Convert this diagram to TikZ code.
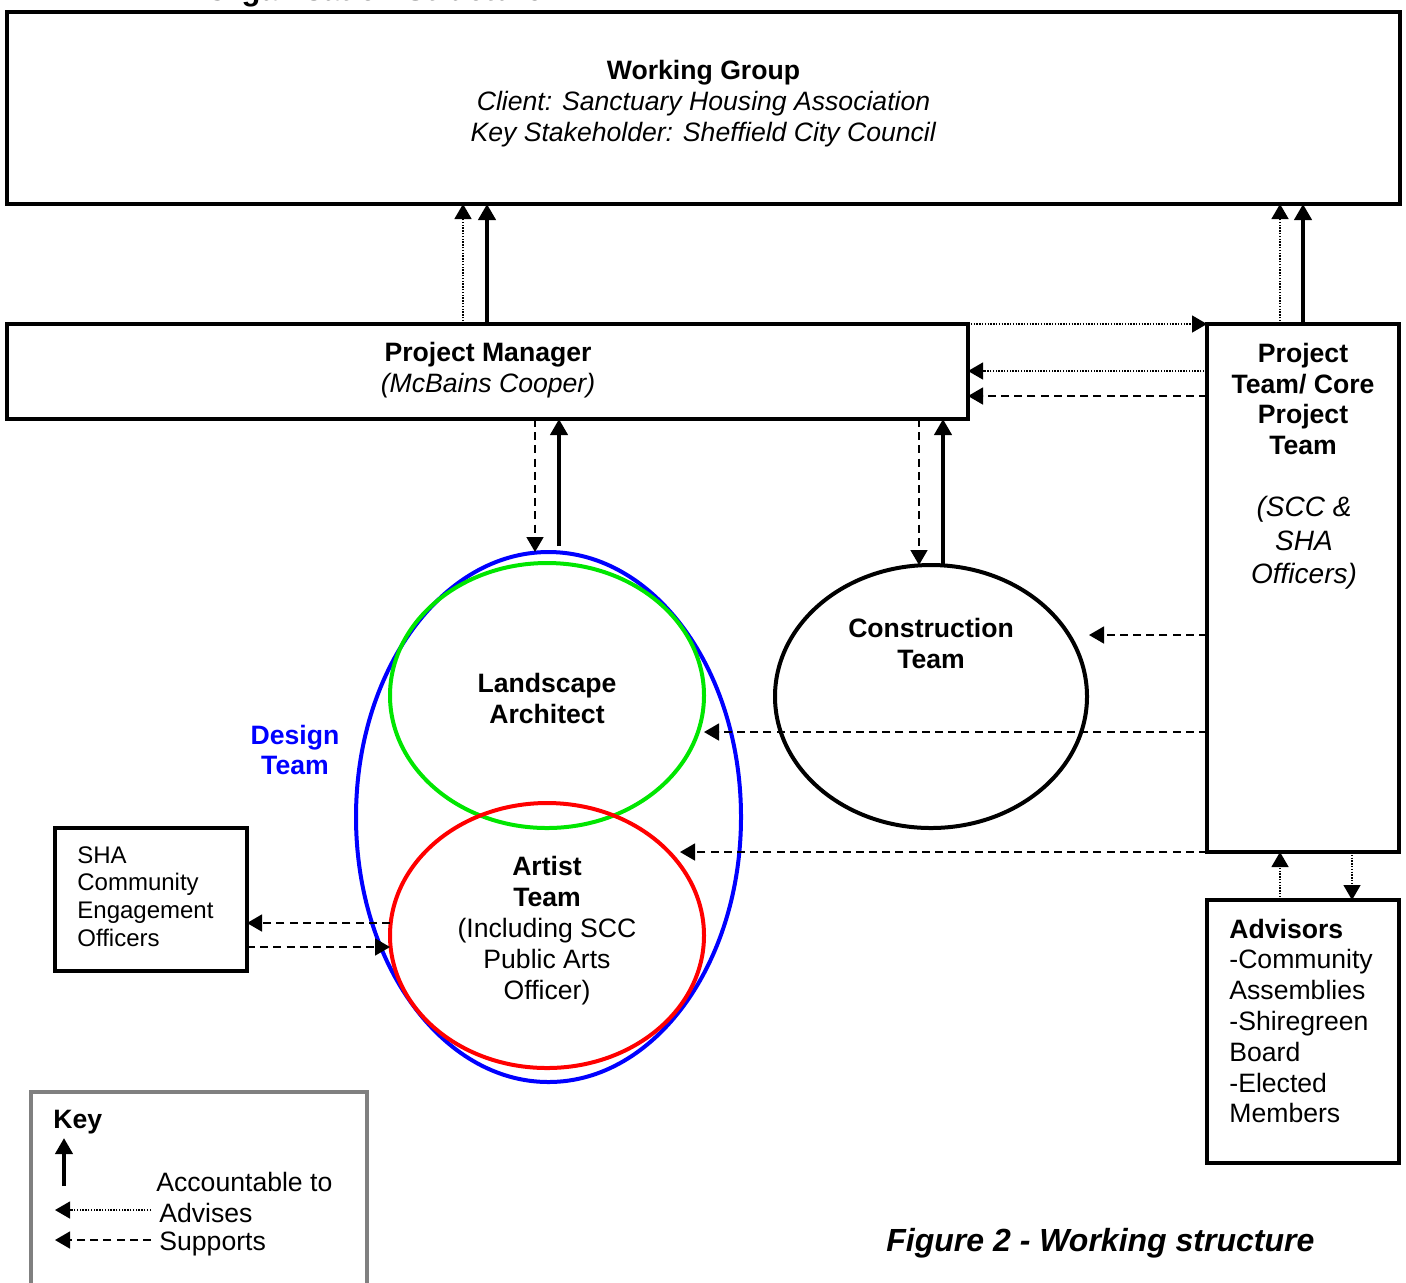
\documentclass[tikz,border=0pt]{standalone}
\usepackage{fontspec}
\setmainfont{Liberation Sans}
\usetikzlibrary{arrows.meta,shapes.geometric}
\definecolor{dblue}{RGB}{0,0,255}
\definecolor{dgreen}{RGB}{0,230,0}
\definecolor{dred}{RGB}{255,0,0}
\definecolor{keygray}{RGB}{128,128,128}
\begin{document}
\begin{tikzpicture}[x=0.5pt,y=-0.5pt,
  box/.style={draw, line width=2.2pt, inner sep=0pt, outer sep=0pt, fill=white},
  ell/.style={ellipse, line width=2pt, inner sep=0pt, outer sep=0pt},
  txt/.style={align=center, inner sep=0pt, font=\fontsize{13.3}{15.4}\selectfont},
  ltxt/.style={align=left, inner sep=0pt, font=\fontsize{13.3}{15.4}\selectfont},
  acc/.style={line width=2pt, -{Triangle[length=8pt,width=8.5pt]}},
  adv/.style={line width=0.7pt, dash pattern=on 0.7pt off 0.7pt, -{Triangle[length=7.5pt,width=8.5pt]}},
  sup/.style={line width=0.8pt, dash pattern=on 4pt off 2.6pt, -{Triangle[length=7.5pt,width=8.5pt]}}]
\useasboundingbox (0,0) rectangle (1406,1282);
\clip (0,0) rectangle (1406,1282);

% title (cut off at the top, as in the reference)
\node[anchor=base west, inner sep=0pt, font=\fontsize{15.5}{18}\selectfont\bfseries] (title) at (205,0.5) {Organisation Structure};

% boxes
\node[box, minimum width=696.5pt, minimum height=96pt] (wg) at (703.5,108) {};
\node[box, minimum width=480.5pt, minimum height=47.5pt] (pm) at (487.5,371.5) {};
\node[box, minimum width=96pt, minimum height=264pt] (pt) at (1303,588) {};
\node[box, minimum width=96pt, minimum height=131.5pt] (adv) at (1303,1031.5) {};
\node[box, minimum width=96pt, minimum height=71.5pt] (sha) at (151,899.5) {};
\node[draw=keygray, line width=2pt, inner sep=0pt, minimum width=168pt, minimum height=100pt] (key) at (199,1192) {};

% ellipses
\node[ell, draw=dblue, minimum width=192.5pt, minimum height=265pt] (design) at (548.5,817) {};
\node[ell, draw=dgreen, minimum width=157pt, minimum height=132.5pt] (land) at (547,695.5) {};
\node[ell, draw=dred, minimum width=157pt, minimum height=132.5pt] (artist) at (547,935.5) {};
\node[ell, draw=black, minimum width=156pt, minimum height=131.5pt] (constr) at (931,696.5) {};

% texts
\node[txt] (wgt) at (703.5,103.5) {\textbf{Working Group}\\\textit{Client: Sanctuary Housing Association}\\\textit{Key Stakeholder: Sheffield City Council}};
\node[txt] (pmt) at (488,370) {\textbf{Project Manager}\\\textit{(McBains Cooper)}};
\node[txt, font=\fontsize{13.3}{15.3}\selectfont\bfseries] (ptt1) at (1303,399) {Project\\Team/ Core\\Project\\Team};
\node[txt, font=\fontsize{14}{16.8}\selectfont\itshape] (ptt2) at (1304,543) {(SCC \&\\SHA\\Officers)};
\node[ltxt, anchor=west] (advt) at (1229,1021) {\textbf{Advisors}\\-Community\\Assemblies\\-Shiregreen\\Board\\-Elected\\Members};
\node[ltxt, anchor=west, font=\fontsize{12}{13.85}\selectfont] (shat) at (77,896.5) {SHA\\Community\\Engagement\\Officers};
\node[txt, text=dblue, font=\fontsize{13.3}{15.4}\selectfont\bfseries] (dtl) at (295,750) {Design\\Team};
\node[txt, font=\fontsize{13.3}{15.4}\selectfont\bfseries] (landt) at (547,698.5) {Landscape\\Architect};
\node[txt] (artt) at (547,930.5) {\textbf{Artist}\\\textbf{Team}\\(Including SCC\\Public Arts\\Officer)};
\node[txt, font=\fontsize{13.3}{15.4}\selectfont\bfseries] (constrt) at (931,643.5) {Construction\\Team};
\node[anchor=west, inner sep=0pt, font=\fontsize{16}{19}\selectfont\bfseries\itshape] (cap) at (886,1243) {Figure 2 - Working structure};

% key texts
\node[ltxt, anchor=west, font=\fontsize{13.3}{15.4}\selectfont\bfseries] (keyt) at (53,1122.5) {Key};
\node[ltxt, anchor=west] (k1t) at (156,1182) {Accountable to};
\node[ltxt, anchor=west] (k2t) at (159,1213) {Advises};
\node[ltxt, anchor=west] (k3t) at (159,1243.5) {Supports};

% helper coordinates
\coordinate (c463) at (463,0);
\coordinate (c487) at (487,0);
\coordinate (c1280) at (1280,0);
\coordinate (c1303) at (1303,0);
\coordinate (c1352) at (1352,0);
\coordinate (c535) at (535,0);
\coordinate (c559) at (559,0);
\coordinate (c919) at (919,0);
\coordinate (c943) at (943,0);
\coordinate (r371) at (0,371);
\coordinate (r396) at (0,396);
\coordinate (e1) at (1089,635);
\coordinate (e2) at (704,732);
\coordinate (e3) at (680,852);
\coordinate (e4) at (390,923);
\coordinate (e5) at (390,947);
\coordinate (s559) at (559,546);
\coordinate (k1a) at (64,1186);
\coordinate (k1b) at (64,1138);
\coordinate (k2a) at (151,1210);
\coordinate (k2b) at (55,1210);
\coordinate (k3a) at (151,1240);
\coordinate (k3b) at (55,1240);

% connectors
\draw[adv] (pm.north -| c463) -- (wg.south -| c463);
\draw[acc] (pm.north -| c487) -- (wg.south -| c487);
\draw[adv] (pt.north -| c1280) -- (wg.south -| c1280);
\draw[acc] (pt.north -| c1303) -- (wg.south -| c1303);
\draw[adv] (pm.north east) -- (pt.north west);
\draw[adv] (pt.west |- r371) -- (pm.east |- r371);
\draw[sup] (pt.west |- r396) -- (pm.east |- r396);
\draw[sup] (pm.south -| c535) -- (c535 |- design.north);
\draw[acc] (s559) -- (pm.south -| c559);
\draw[sup] (pm.south -| c919) -- (c919 |- constr.north);
\draw[acc] (c943 |- constr.north) -- (pm.south -| c943);
\draw[sup] (pt.west |- e1) -- (e1);
\draw[sup] (pt.west |- e2) -- (e2);
\draw[sup] (pt.west |- e3) -- (e3);
\draw[adv] (adv.north -| c1280) -- (pt.south -| c1280);
\draw[adv] (pt.south -| c1352) -- (adv.north -| c1352);
\draw[sup] (e4) -- (sha.east |- e4);
\draw[sup] (sha.east |- e5) -- (e5);

% key arrows
\draw[acc] (k1a) -- (k1b);
\draw[adv] (k2a) -- (k2b);
\draw[sup] (k3a) -- (k3b);
\end{tikzpicture}
\end{document}
